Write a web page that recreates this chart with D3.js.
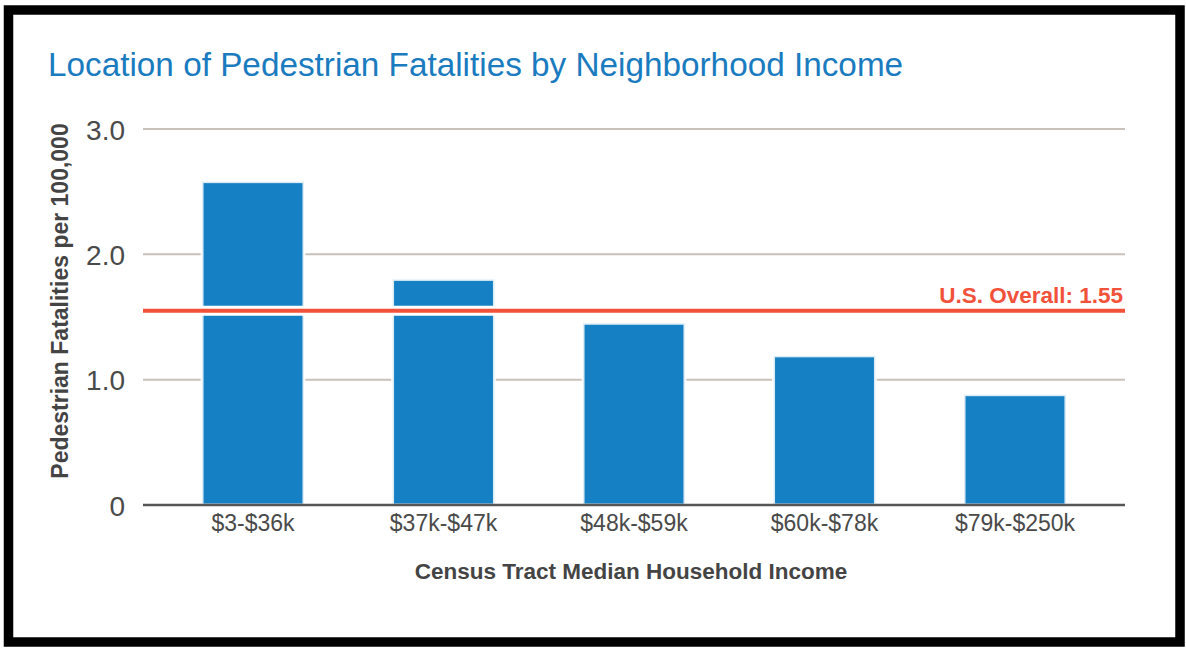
<!DOCTYPE html>
<html>
<head>
<meta charset="utf-8">
<script src="https://cdnjs.cloudflare.com/ajax/libs/d3/7.8.5/d3.min.js"></script>
<style>
  body { margin: 0; background: #fff; }
  text { font-family: "Liberation Sans", Arial, Helvetica, sans-serif; }
</style>
</head>
<body>
<div id="chart"></div>
<script>
const width = 1186;
const height = 648;

// data
const categories = ["$3-$36k", "$37k-$47k", "$48k-$59k", "$60k-$78k", "$79k-$250k"];
const values = [2.58, 1.80, 1.45, 1.19, 0.88];
const yTicks = [0, 1, 2, 3];
const usOverall = 1.55;

const margin = {left: 143, right: 61, top: 129, bottom: 143};

const svg = d3.select("#chart")
    .append("svg")
    .attr("width", width)
    .attr("height", height);

// frame
svg.append("rect")
    .attr("x", 8.5)
    .attr("y", 10)
    .attr("width", 1171.5)
    .attr("height", 632)
    .attr("fill", "#fff")
    .attr("stroke", "#000")
    .attr("stroke-width", 9.5);

const x = d3.scaleBand()
    .domain(categories)
    .range([margin.left, width - margin.right])
    .paddingInner(0.465)
    .paddingOuter(0.31);

const y = d3.scaleLinear()
    .domain([0, 3])
    .range([height - margin.bottom, margin.top]);

// title
svg.append("text")
    .attr("x", 48)
    .attr("y", 76)
    .attr("fill", "#1a7bbf")
    .attr("font-size", 33.3)
    .text("Location of Pedestrian Fatalities by Neighborhood Income");

// gridlines
svg.append("g")
    .selectAll("line")
    .data(yTicks.filter(d => d > 0))
    .enter()
    .append("line")
    .attr("x1", margin.left)
    .attr("x2", width - margin.right)
    .attr("y1", d => y(d))
    .attr("y2", d => y(d))
    .attr("stroke", "#c9c1ba")
    .attr("stroke-width", 2);

// y tick labels
const yAxis = svg.append("g")
    .attr("transform", `translate(${margin.left - 18},0)`)
    .call(d3.axisLeft(y).tickValues(yTicks).tickSize(0).tickFormat(d => d === 0 ? "0" : d3.format(".1f")(d)));
yAxis.select(".domain").remove();
yAxis.selectAll("text")
    .attr("font-size", 28)
    .attr("fill", "#4a4a4a")
    .attr("dy", "0.36em")
    .attr("x", 0);

// bars
svg.append("g")
    .selectAll("rect")
    .data(values)
    .enter()
    .append("rect")
    .attr("x", (d, i) => x(categories[i]))
    .attr("width", x.bandwidth())
    .attr("y", d => y(d))
    .attr("height", d => y(0) - y(d))
    .attr("fill", "#1580c3")
    .attr("stroke", "#fff")
    .attr("stroke-opacity", 0.85)
    .attr("stroke-width", 3);

// x baseline
svg.append("line")
    .attr("x1", margin.left)
    .attr("x2", width - margin.right)
    .attr("y1", y(0))
    .attr("y2", y(0))
    .attr("stroke", "#555")
    .attr("stroke-width", 2.5);

// x tick labels
const xAxis = svg.append("g")
    .attr("transform", `translate(0,${y(0)})`)
    .call(d3.axisBottom(x).tickSize(0));
xAxis.select(".domain").remove();
xAxis.selectAll("text")
    .attr("font-size", 23)
    .attr("fill", "#4a4a4a")
    .attr("y", 0)
    .attr("dy", 26);

// U.S. overall reference line
svg.append("line")
    .attr("x1", margin.left)
    .attr("x2", width - margin.right)
    .attr("y1", y(usOverall))
    .attr("y2", y(usOverall))
    .attr("stroke", "#fff")
    .attr("stroke-width", 10);
svg.append("line")
    .attr("x1", margin.left)
    .attr("x2", width - margin.right)
    .attr("y1", y(usOverall))
    .attr("y2", y(usOverall))
    .attr("stroke", "#f2513a")
    .attr("stroke-width", 4);
svg.append("text")
    .attr("x", width - margin.right - 2)
    .attr("y", y(usOverall) - 8)
    .attr("text-anchor", "end")
    .attr("font-size", 22.5)
    .attr("font-weight", "bold")
    .attr("fill", "#f2513a")
    .text("U.S. Overall: " + usOverall);

// axis titles
svg.append("text")
    .attr("x", 631)
    .attr("y", 579)
    .attr("text-anchor", "middle")
    .attr("font-size", 22.5)
    .attr("font-weight", "bold")
    .attr("fill", "#444")
    .text("Census Tract Median Household Income");

svg.append("text")
    .attr("transform", "translate(68,301) rotate(-90)")
    .attr("text-anchor", "middle")
    .attr("font-size", 23)
    .attr("font-weight", "bold")
    .attr("fill", "#444")
    .text("Pedestrian Fatalities per 100,000");
</script>
</body>
</html>
